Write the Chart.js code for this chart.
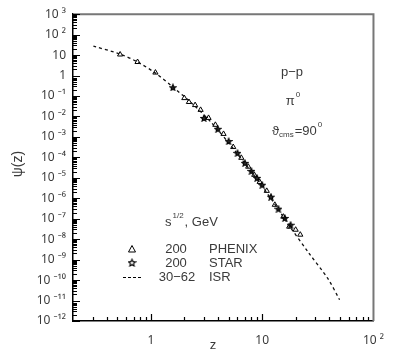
<!DOCTYPE html>
<html>
<head>
<meta charset="utf-8">
<script src="https://cdn.jsdelivr.net/npm/chart.js@4.4.0/dist/chart.umd.min.js"></script>
<style>
  body { margin: 0; background: #fff; }
  #wrap { width: 396px; height: 350px; }
</style>
</head>
<body>
<div id="wrap"><canvas id="myGraph" width="396" height="350"></canvas></div>
<script>
// ISR 30-62 GeV fit curve
var isrZ   = [0.305, 0.53, 0.76, 1.1, 1.58, 2.37, 3.53, 5.27, 7.87, 11.7, 17.5, 26.1, 39, 49.6];
var isrPsi = [27.5, 11.2, 4.6, 1.32, 0.275, 0.041, 0.0048, 3.6e-4, 2.2e-5, 1.17e-6, 4.6e-8, 2.2e-9, 1.17e-10, 1.1e-11];

// PHENIX 200 GeV
var phenixZ   = [0.53, 0.76, 1.1, 2.0, 2.2, 2.5, 2.8, 3.3, 3.8, 4.5, 5.5, 6.5, 7.5, 8.5, 9.5, 11, 13, 15.5, 17.5, 20, 22];
var phenixPsi = [10.7, 4.6, 1.4, 0.079, 0.051, 0.036, 0.021, 0.0085, 0.0039, 0.0014, 3.2e-4, 9.5e-5, 3.5e-5, 1.4e-5, 6.3e-6, 2.3e-6, 4.8e-7, 1.26e-7, 4.1e-8, 2.9e-8, 1.66e-8];

// STAR 200 GeV
var starZ   = [1.58, 3.0, 4.0, 5.0, 6.0, 7.0, 8.0, 9.0, 10, 12, 14, 16, 18];
var starPsi = [0.27, 0.0085, 0.0025, 6.3e-4, 1.66e-4, 5.4e-5, 2.2e-5, 1.0e-5, 4.6e-6, 1.2e-6, 3.1e-7, 1.1e-7, 5.1e-8];

var xTickVals = [];
for (var d = -1; d <= 1; d++) {
    for (var m = 1; m <= 9; m++) {
        var v = m * Math.pow(10, d);
        if (v >= 0.2) xTickVals.push(v);
    }
}
xTickVals.push(100);
var yTickVals = [];
for (var e = -12; e <= 2; e++) {
    for (var m2 = 1; m2 <= 9; m2++) yTickVals.push(m2 * Math.pow(10, e));
}
yTickVals.push(1000);

function toPts(xs, ys) {
    return xs.map(function (x, i) { return { x: x, y: ys[i] }; });
}

var supMap = { '-': '\u207B', '0': '\u2070', '1': '\u00B9', '2': '\u00B2', '3': '\u00B3',
    '4': '\u2074', '5': '\u2075', '6': '\u2076', '7': '\u2077', '8': '\u2078', '9': '\u2079' };
function decadeLabel(v) {
    var e = Math.round(Math.log10(v));
    if (Math.abs(v / Math.pow(10, e) - 1) > 1e-6) return '';
    if (e === 0) return '1';
    if (e === 1) return '10';
    return '10 ' + String(e).split('').map(function (c) { return supMap[c]; }).join('');
}
function isDecade(v) {
    var e = Math.round(Math.log10(v));
    return Math.abs(v / Math.pow(10, e) - 1) < 1e-6;
}

// 5-point star marker
function makeStar(size, fill) {
    var c = document.createElement('canvas');
    c.width = size; c.height = size;
    var g = c.getContext('2d');
    var cx = size / 2, cy = size / 2 + 0.5, R = size / 2 - 0.8, r = R * 0.45;
    g.beginPath();
    for (var i = 0; i < 10; i++) {
        var rr = i % 2 === 0 ? R : r;
        var a = -Math.PI / 2 + i * Math.PI / 5;
        var px = cx + rr * Math.cos(a), py = cy + rr * Math.sin(a);
        if (i === 0) g.moveTo(px, py); else g.lineTo(px, py);
    }
    g.closePath();
    g.fillStyle = fill;
    g.fill();
    g.lineWidth = 1.1;
    g.strokeStyle = '#000';
    g.stroke();
    return c;
}
var starMarker = makeStar(8, '#333');
var starLegend = makeStar(9, '#fff');

var FONT = '"Liberation Sans", Arial, sans-serif';
var TICKFONT = '"Noto Sans", "DejaVu Sans", sans-serif';
var TXT = '#3a3a3a';

function drawSup(ctx, base, sup, x, y, size, align) {
    ctx.font = size + 'px ' + FONT;
    var w1 = ctx.measureText(base).width;
    ctx.font = Math.round(size * 0.65) + 'px ' + FONT;
    var w2 = ctx.measureText(sup).width;
    var sx = align === 'center' ? x - (w1 + w2 + 1) / 2 : x;
    ctx.textAlign = 'left';
    ctx.font = size + 'px ' + FONT;
    ctx.fillText(base, sx, y);
    ctx.font = Math.round(size * 0.65) + 'px ' + FONT;
    ctx.fillText(sup, sx + w1 + 1, y - size * 0.45);
}

var decor = {
    id: 'decor',
    afterDraw: function (chart) {
        var ctx = chart.ctx, a = chart.chartArea;
        var xs = chart.scales.x, ys = chart.scales.y;
        ctx.save();
        ctx.setLineDash([]);
        // top / right frame
        ctx.strokeStyle = '#777';
        ctx.lineWidth = 2;
        ctx.beginPath();
        ctx.moveTo(a.left, a.top);
        ctx.lineTo(a.right, a.top);
        ctx.lineTo(a.right, a.bottom);
        ctx.stroke();
        // inside ticks
        ctx.strokeStyle = '#000';
        ctx.lineWidth = 1.2;
        ctx.beginPath();
        yTickVals.forEach(function (val) {
            var y = Math.round(ys.getPixelForValue(val)) + 0.5;
            var len = isDecade(val) ? 7 : 4;
            ctx.moveTo(a.left, y);
            ctx.lineTo(a.left + len, y);
        });
        xTickVals.forEach(function (val) {
            if (val <= 0.2 || val >= 100) return;
            var x = Math.round(xs.getPixelForValue(val)) + 0.5;
            var len = isDecade(val) ? 7 : 4;
            ctx.moveTo(x, a.bottom);
            ctx.lineTo(x, a.bottom - len);
        });
        ctx.stroke();

        ctx.fillStyle = TXT;
        ctx.textBaseline = 'middle';
        // axis titles
        ctx.font = '13px ' + FONT;
        ctx.textAlign = 'center';
        ctx.fillText('z', 213, 345);
        ctx.save();
        ctx.translate(18, 164);
        ctx.rotate(-Math.PI / 2);
        ctx.font = '14px ' + FONT;
        ctx.fillText('\u03C8(z)', 0, 0);
        ctx.restore();

        // reaction labels
        ctx.font = '13px ' + FONT;
        ctx.textAlign = 'center';
        ctx.fillText('p\u2212p', 292, 72);
        drawSup(ctx, '\u03C0', '0', 293, 101, 13, 'center');
        ctx.textAlign = 'left';
        ctx.font = '13px ' + FONT;
        ctx.fillText('\u03D1', 272, 131);
        var x0 = 272 + ctx.measureText('\u03D1').width;
        ctx.font = '8px ' + FONT;
        ctx.fillText('cms', x0, 135);
        x0 += ctx.measureText('cms').width + 1;
        drawSup(ctx, '=90', '0', x0, 131, 13, 'left');

        // legend
        ctx.textAlign = 'left';
        drawSup(ctx, 's', '1/2', 165, 222, 13, 'left');
        ctx.font = '13px ' + FONT;
        var sw = ctx.measureText('s').width;
        ctx.font = '8px ' + FONT;
        var sw2 = ctx.measureText('1/2').width;
        ctx.font = '13px ' + FONT;
        ctx.fillText(', GeV', 165 + sw + sw2 + 2, 222);

        ctx.textAlign = 'center';
        ctx.fillText('200', 176, 249);
        ctx.fillText('200', 176, 263);
        ctx.fillText('30\u221262', 177, 277);
        ctx.textAlign = 'left';
        ctx.fillText('PHENIX', 209, 249);
        ctx.fillText('STAR', 209, 263);
        ctx.fillText('ISR', 209, 277);

        ctx.strokeStyle = '#000';
        ctx.lineWidth = 1;
        ctx.beginPath();
        ctx.moveTo(132, 245.5);
        ctx.lineTo(135.5, 252);
        ctx.lineTo(128.5, 252);
        ctx.closePath();
        ctx.stroke();
        ctx.drawImage(starLegend, 127.5, 258);
        ctx.setLineDash([3, 2]);
        ctx.beginPath();
        ctx.moveTo(123, 277.5);
        ctx.lineTo(141, 277.5);
        ctx.stroke();
        ctx.restore();
    }
};

var ctx = document.getElementById('myGraph');
var myGraph = new Chart(ctx, {
    type: 'scatter',
    data: {
        datasets: [{
            label: 'ISR',
            type: 'line',
            data: toPts(isrZ, isrPsi),
            borderColor: '#111',
            borderWidth: 1.3,
            borderDash: [3, 3],
            pointRadius: 0,
            fill: false,
            tension: 0.3
        }, {
            label: 'PHENIX',
            data: toPts(phenixZ, phenixPsi),
            pointStyle: 'triangle',
            pointRadius: 3,
            borderColor: '#000',
            borderWidth: 1,
            backgroundColor: 'rgba(255,255,255,0)'
        }, {
            label: 'STAR',
            data: toPts(starZ, starPsi),
            pointStyle: starMarker,
            pointRadius: 4
        }]
    },
    plugins: [decor],
    options: {
        responsive: false,
        animation: false,
        layout: { padding: { top: 13, right: 14, left: 0, bottom: 0 } },
        plugins: {
            legend: { display: false },
            tooltip: { enabled: false }
        },
        scales: {
            x: {
                type: 'logarithmic',
                min: 0.2,
                max: 100,
                afterBuildTicks: function (s) { s.ticks = xTickVals.map(function (v) { return { value: v }; }); },
                afterFit: function (s) { s.height = 29; },
                grid: { display: true, drawOnChartArea: false, drawTicks: false },
                border: { display: true, color: '#000', width: 1.5 },
                ticks: {
                    autoSkip: false,
                    maxRotation: 0,
                    padding: 12,
                    color: TXT,
                    font: { family: TICKFONT, size: 12 },
                    callback: function (v) { return decadeLabel(v); }
                }
            },
            y: {
                type: 'logarithmic',
                min: 1e-12,
                max: 1000,
                afterBuildTicks: function (s) { s.ticks = yTickVals.map(function (v) { return { value: v }; }); },
                afterFit: function (s) { s.width = 73; },
                grid: { display: true, drawOnChartArea: false, drawTicks: false },
                border: { display: true, color: '#000', width: 1.5 },
                ticks: {
                    autoSkip: false,
                    padding: 7,
                    color: TXT,
                    font: { family: TICKFONT, size: 12 },
                    callback: function (v) { return decadeLabel(v); }
                }
            }
        }
    }
});
</script>
</body>
</html>
